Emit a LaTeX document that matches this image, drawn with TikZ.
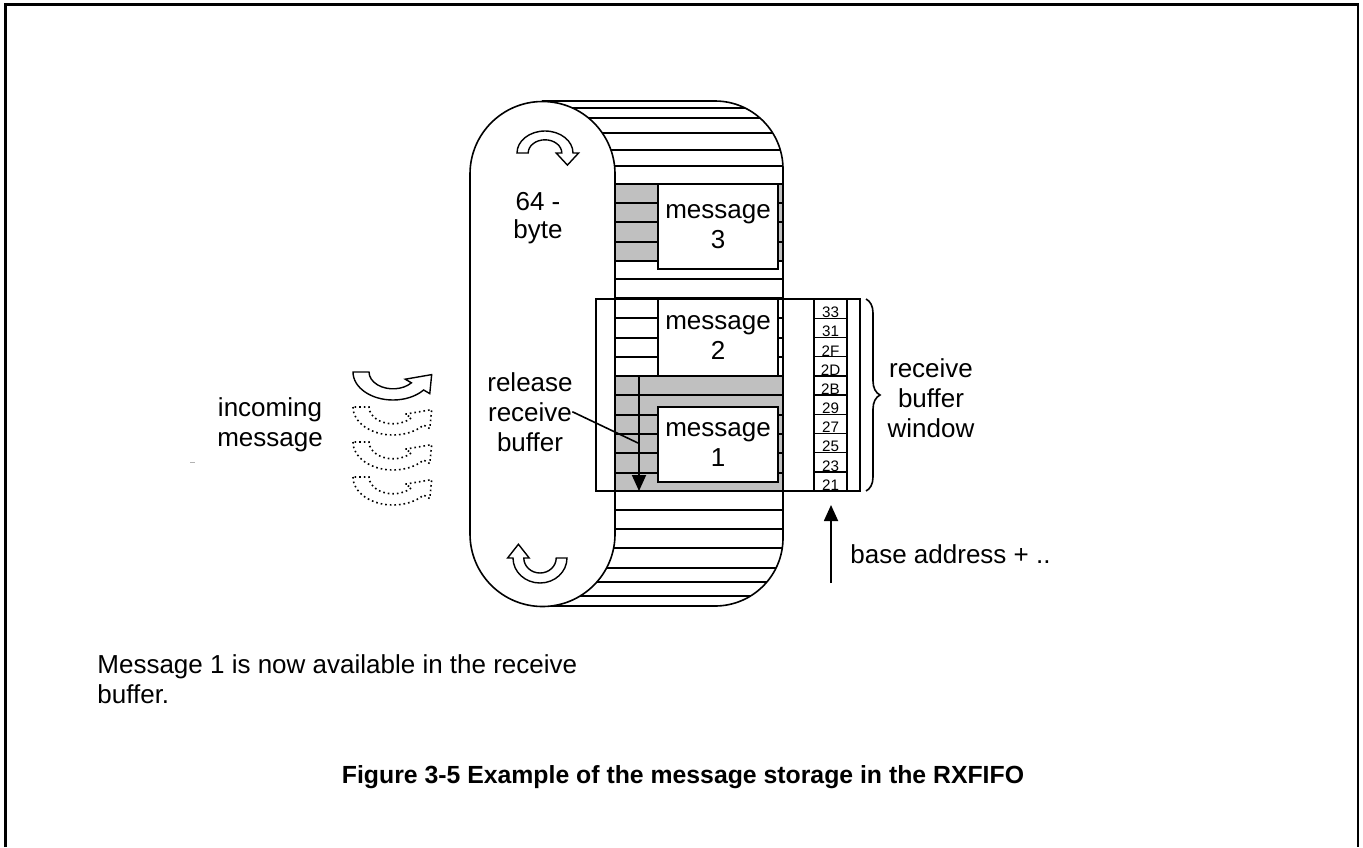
\documentclass[tikz,border=0pt]{standalone}
\usepackage{fontspec}
\setmainfont{Liberation Sans}
\usetikzlibrary{arrows.meta,decorations.pathreplacing}
\definecolor{cellgrey}{RGB}{192,192,192}
\newcommand\bigtext{\fontsize{13}{15}\selectfont}
\newcommand\captext{\fontsize{12.4}{14}\selectfont\bfseries}
\newcommand\addrtext{\fontsize{7.6}{8}\selectfont}
\tikzset{
  overturn/.pic={\path[pic actions] (-1,0) arc[start angle=180,end angle=360,radius=1]
     -- (1.2,0) -- (0.8,0.55) -- (0.4,0) -- (0.6,0)
     arc[start angle=360,end angle=180,radius=0.6] -- cycle;},
  underturn/.pic={\path[pic actions] (-1,0) arc[start angle=180,end angle=40,radius=1]
     -- (0.919,0.771) -- (0.967,0.093) -- (0.306,0.257) -- (0.460,0.386)
     arc[start angle=40,end angle=180,radius=0.6] -- cycle;}
}
\begin{document}
\begin{tikzpicture}[x=0.5pt,y=-0.5pt,
  frame/.style={line width=1.1pt},
  outline/.style={line width=0.8pt},
  stripe/.style={line width=0.7pt},
  msgbox/.style={draw, line width=1pt, fill=white, minimum width=60pt,
    align=center, inner sep=0pt, font=\bigtext},
  lbl/.style={font=\bigtext, inner sep=0pt},
  addrcell/.style={draw, line width=0.7pt, minimum width=16.5pt,
    minimum height=9.6pt, inner sep=0pt},
  addrnum/.style={font=\addrtext, inner sep=0.4pt},
  turnshape/.style={draw, line width=0.7pt, fill=white},
  dotturn/.style={draw, line width=0.8pt, dash pattern=on 0.8pt off 1.5pt},
  pointer/.style={line width=0.9pt, -{Triangle[width=7pt,length=8pt]}}
]
\useasboundingbox (0,0) rectangle (1363,847);

% page frame, open at the bottom
\draw[frame] (5.5,847) -- (5.5,4.5) -- (1358,4.5) -- (1358,847);

% occupied slots
\fill[cellgrey] (615,184) rectangle (783,261);
\fill[cellgrey] (615,376) rectangle (783,491);

% FIFO drum: slot lines clipped to the body
\begin{scope}
  \clip (542,101) -- (715,101) arc[start angle=-90,end angle=0,radius=68]
        -- (783,538) arc[start angle=0,end angle=90,radius=68] -- (542,606) -- cycle;
  \foreach \yy in {108,118,133,150,166,184,203,222,242,261,279,298,318,338,357,
                   376,395,415,434,453,473,491,510,529,548,568,582,596}
    \draw[stripe] (530,\yy) -- (800,\yy);
\end{scope}
\draw[outline] (542,101) -- (715,101) arc[start angle=-90,end angle=0,radius=68]
        -- (783,538) arc[start angle=0,end angle=90,radius=68] -- (542,606);

% end cap of the drum
\draw[outline, fill=white] (470,174) -- (470,534) arc[start angle=180,end angle=0,radius=72.5]
      -- (615,174) arc[start angle=0,end angle=-180,radius=72.5] -- cycle;

% rotation marks inside the end cap
\pic[turnshape, xscale=28, yscale=22] at (545,153) {overturn};
\pic[turnshape, rotate=180, xscale=27, yscale=25] at (540,558) {overturn};
\node[lbl, anchor=base] (cap64) at (538,210) {64 -};
\node[lbl, anchor=base] (capbyte) at (538,238) {byte};

% stored messages
\node[msgbox, minimum height=42.5pt] (m3) at (718,226.5) {message\\3};
\node[msgbox, minimum height=38.5pt] (m2) at (718,337.5) {message\\2};
\node[msgbox, minimum height=37.5pt] (m1) at (718,444.5) {message\\1};

% receive buffer window
\draw[outline] (596,299) rectangle (860,491);
\foreach \lab [count=\i] in {33,31,2F,2D,2B,29,27,25,23,21} {
  \node[addrcell] (a\i) at (830.5,{299+19.2*(\i-0.5)}) {};
  \node[addrnum, anchor=south] at (a\i.south) {\lab};
}
\coordinate (brTop) at (866,299);
\coordinate (brBot) at (866,491);
\draw[outline, decorate, decoration={brace, amplitude=7pt}] (brTop) -- (brBot);
\node[lbl, anchor=base] (rbw1) at (931,377) {receive};
\node[lbl, anchor=base] (rbw2) at (931,407) {buffer};
\node[lbl, anchor=base] (rbw3) at (931,437) {window};

% release of the receive buffer
\coordinate (relTop) at (639,376);
\coordinate (relEnd) at (639,491);
\draw[pointer] (relTop) -- (relEnd);
\node[lbl, anchor=base] (rel1) at (530,391) {release};
\node[lbl, anchor=base] (rel2) at (530,421) {receive};
\node[lbl, anchor=base] (rel3) at (530,451) {buffer};
\coordinate (relHit) at (638,443);
\draw[line width=0.8pt] (rel2.east) -- (relHit);

% base address pointer
\coordinate (baseTail) at (831,583);
\coordinate (baseTip) at (831,505);
\draw[pointer] (baseTail) -- (baseTip);
\node[lbl, anchor=base west] (base) at (850,563) {base address + ..};

% incoming messages
\pic[turnshape, xscale=40, yscale=28] at (393,372) {underturn};
\pic[dotturn, xscale=40, yscale=28] at (393,407) {underturn};
\pic[dotturn, xscale=40, yscale=28] at (393,442) {underturn};
\pic[dotturn, xscale=40, yscale=28] at (393,477) {underturn};
\node[lbl, anchor=base] (inc1) at (270,416) {incoming};
\node[lbl, anchor=base] (inc2) at (270,446) {message};
\draw[line width=0.4pt, gray!60] (190,462) -- (195,462);

% explanatory note and caption
\node[lbl, anchor=base west] (note1) at (97,673) {Message 1 is now available in the receive};
\node[lbl, anchor=base west] (note2) at (97,703) {buffer.};
\node[lbl, font=\captext, anchor=base] (caption) at (683,783)
  {Figure 3-5 Example of the message storage in the RXFIFO};
\end{tikzpicture}
\end{document}
